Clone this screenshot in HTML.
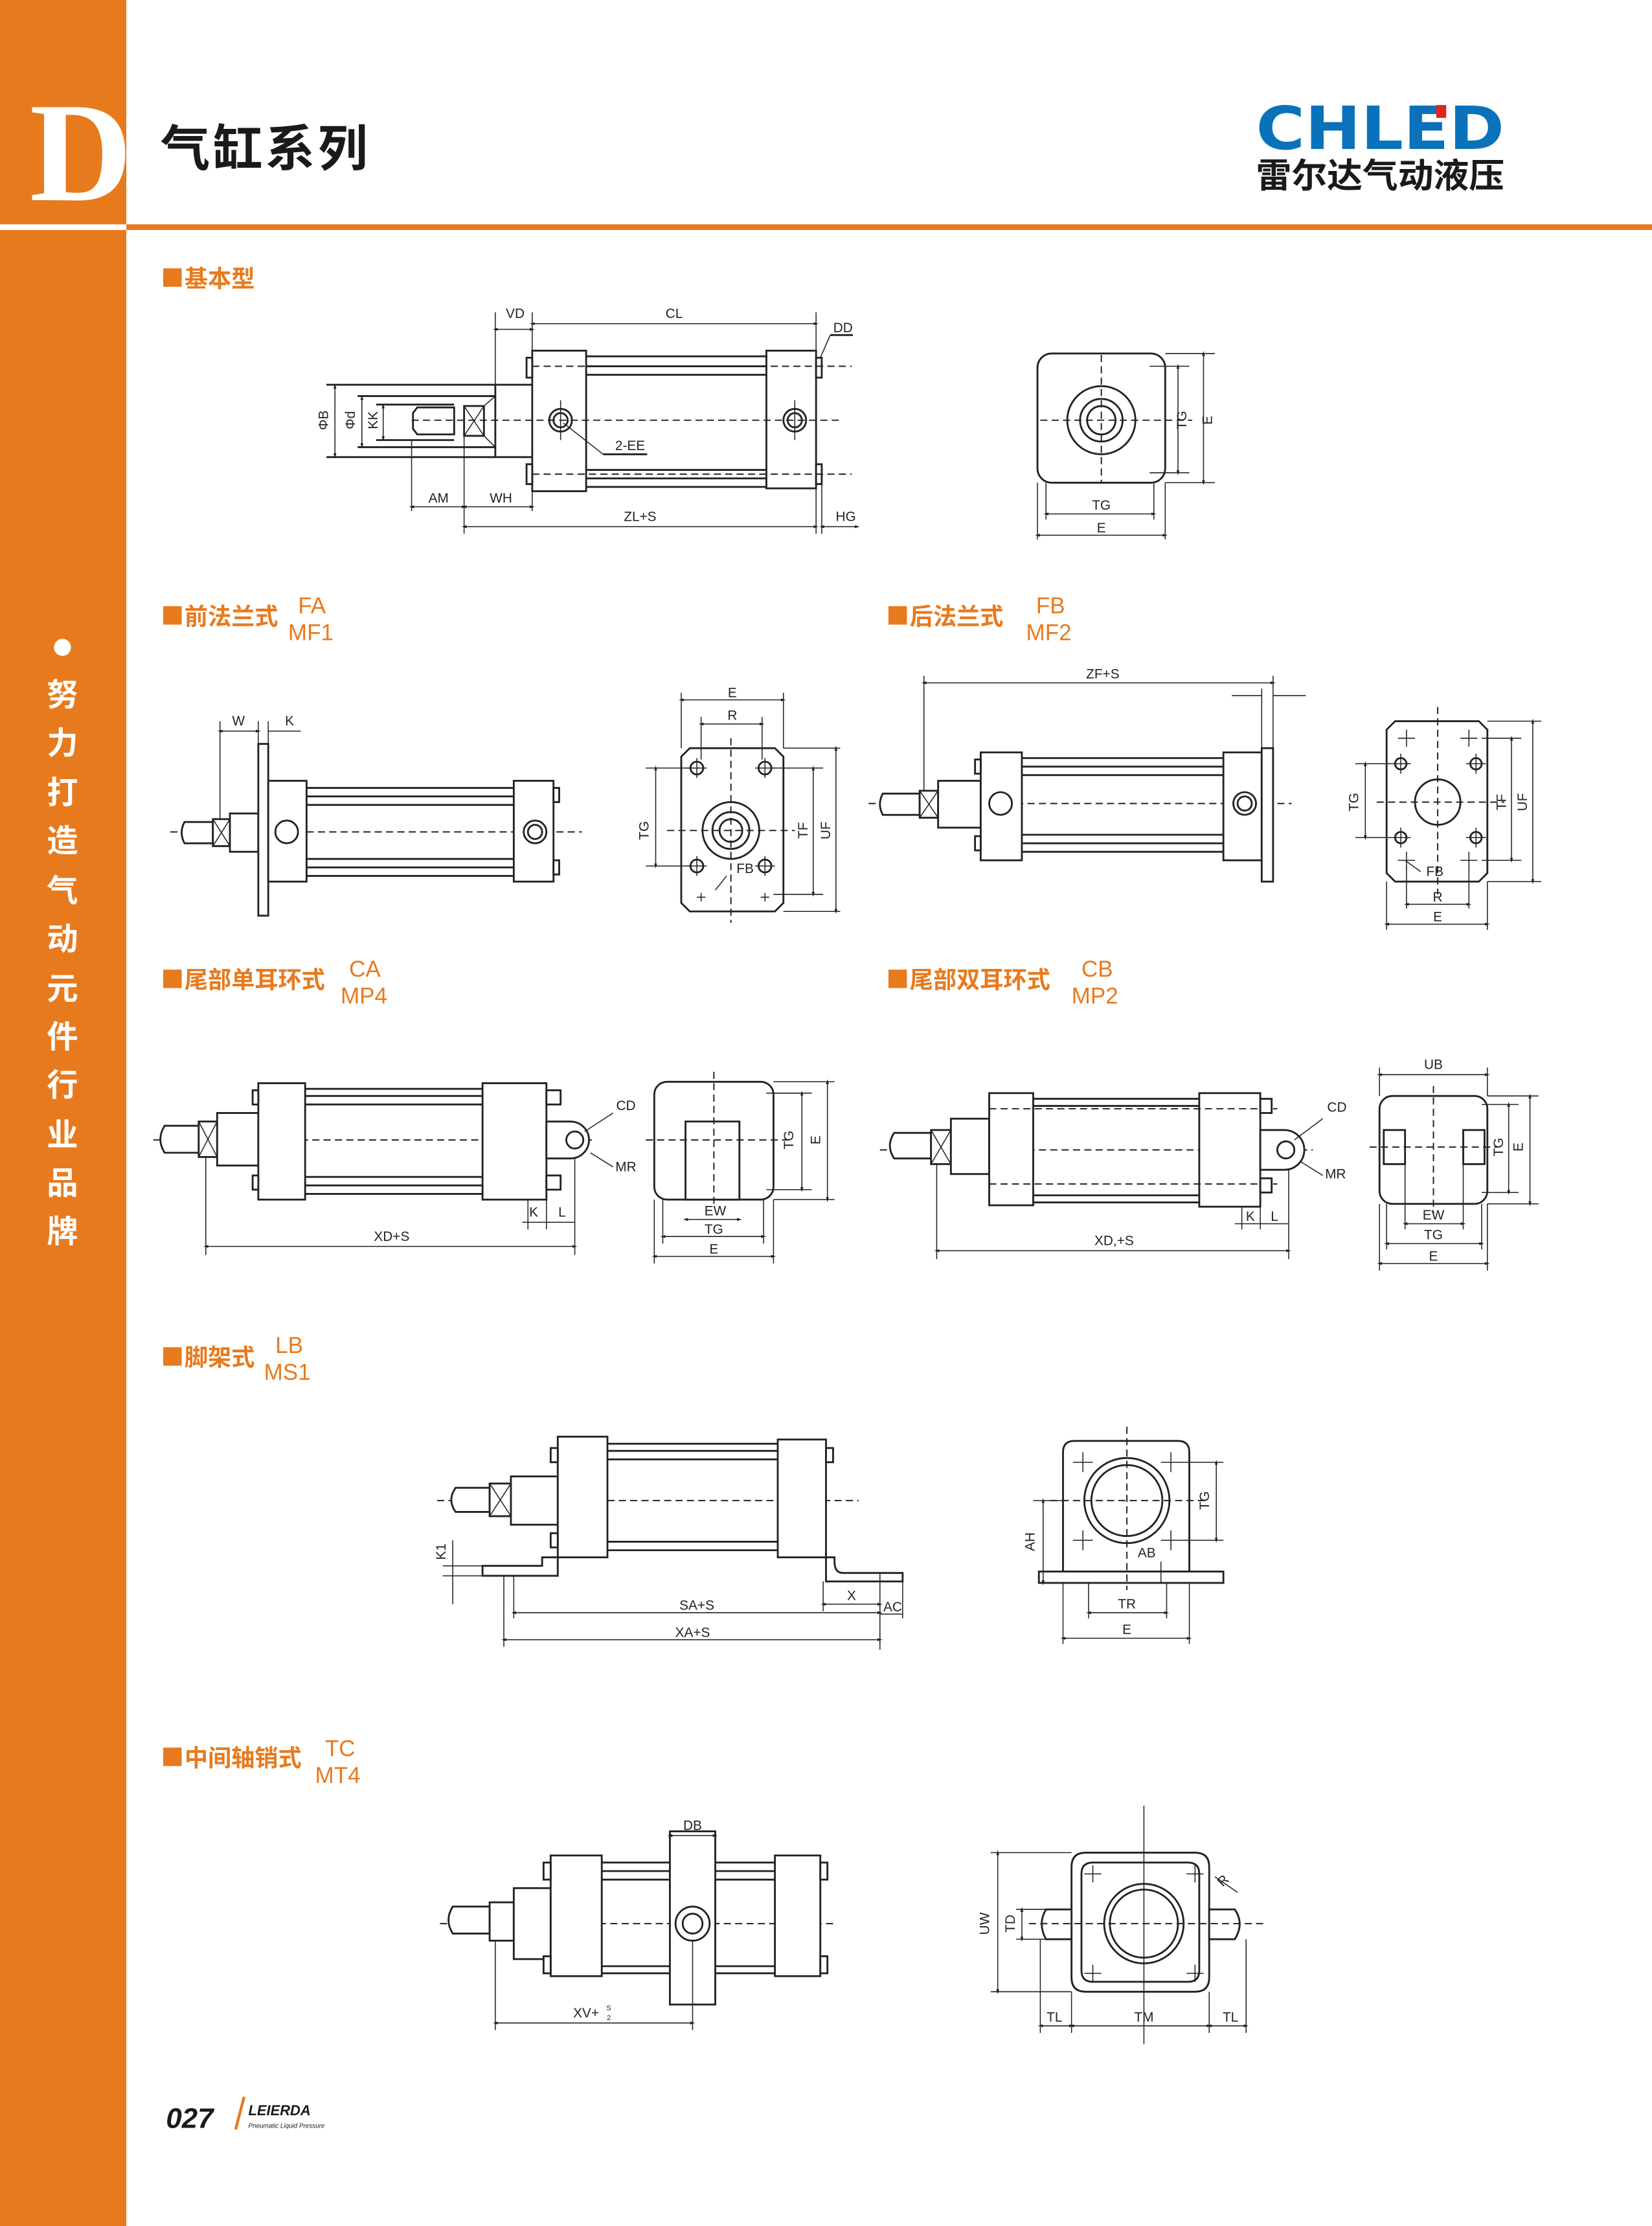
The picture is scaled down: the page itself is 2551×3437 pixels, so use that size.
<!DOCTYPE html>
<html><head><meta charset="utf-8"><style>
html,body{margin:0;padding:0;background:#fff}
svg{display:block}
text{font-family:"Liberation Sans","Noto Sans CJK SC",sans-serif}
.d{stroke:#222;stroke-width:.7;fill:none}
.dm{stroke:#222;stroke-width:.7;fill:none;marker-start:url(#a);marker-end:url(#a)}
.o{stroke:#222;stroke-width:1.3;fill:#fff}
.ol{stroke:#222;stroke-width:1.3;fill:none}
.c{stroke:#222;stroke-width:.9;fill:none;stroke-dasharray:5 3}
.t{font-size:9.5px;fill:#222;text-anchor:middle}
.h{font-size:16.5px;fill:#E87A1E;font-weight:bold}
.hs{font-size:16px;fill:#E87A1E}
</style></head><body>
<svg width="2551" height="3437" viewBox="0 0 1164 1568" preserveAspectRatio="none" xmlns="http://www.w3.org/2000/svg">
<defs>
<marker id="a" viewBox="0 0 10 10" refX="5" refY="5" markerWidth="5" markerHeight="5" orient="auto-start-reverse"><path d="M0,2 L10,5 L0,8 z" fill="#222"/></marker>
</defs>
<!-- sidebar & header -->
<rect x="0" y="0" width="89" height="1568" fill="#E87A1E"/>
<rect x="0" y="158" width="1164" height="4" fill="#E87A1E"/>
<rect x="0" y="158" width="89" height="4" fill="#fff"/>
<text x="57" y="141" font-family="Liberation Serif,serif" font-size="100" font-weight="bold" fill="#fff" text-anchor="middle" style="font-family:'Liberation Serif',serif">D</text>
<text x="113" y="117" font-size="35" font-weight="bold" fill="#1a1a1a" style="letter-spacing:2px">气缸系列</text>
<text x="885" y="105" font-size="42" font-weight="900" fill="#0A72BA" textLength="175" lengthAdjust="spacingAndGlyphs" style="font-family:'DejaVu Sans','Liberation Sans',sans-serif">CHLED</text>
<rect x="1012" y="74" width="7" height="9" fill="#E0251B"/>
<text x="885" y="132" font-size="24" font-weight="bold" fill="#1a1a1a" textLength="175" lengthAdjust="spacingAndGlyphs">雷尔达气动液压</text>
<circle cx="44" cy="456" r="6" fill="#fff"/>
<g font-size="22" fill="#fff" text-anchor="middle" font-weight="bold">
<text x="44" y="497">努</text><text x="44" y="531">力</text><text x="44" y="566">打</text><text x="44" y="600">造</text><text x="44" y="635">气</text><text x="44" y="669">动</text><text x="44" y="704">元</text><text x="44" y="738">件</text><text x="44" y="772">行</text><text x="44" y="807">业</text><text x="44" y="841">品</text><text x="44" y="875">牌</text>
</g>

<!-- section headers -->
<g>
<rect x="115" y="189" width="13" height="13" fill="#E87A1E"/><text class="h" x="130" y="202">基本型</text>
<rect x="115" y="427" width="13" height="13" fill="#E87A1E"/><text class="h" x="130" y="440">前法兰式</text><text class="hs" x="210" y="432">FA</text><text class="hs" x="203" y="451">MF1</text>
<rect x="626" y="427" width="13" height="13" fill="#E87A1E"/><text class="h" x="641" y="440">后法兰式</text><text class="hs" x="730" y="432">FB</text><text class="hs" x="723" y="451">MF2</text>
<rect x="115" y="683" width="13" height="13" fill="#E87A1E"/><text class="h" x="130" y="696">尾部单耳环式</text><text class="hs" x="246" y="688">CA</text><text class="hs" x="240" y="707">MP4</text>
<rect x="626" y="683" width="13" height="13" fill="#E87A1E"/><text class="h" x="641" y="696">尾部双耳环式</text><text class="hs" x="762" y="688">CB</text><text class="hs" x="755" y="707">MP2</text>
<rect x="115" y="949" width="13" height="13" fill="#E87A1E"/><text class="h" x="130" y="962">脚架式</text><text class="hs" x="194" y="953">LB</text><text class="hs" x="186" y="972">MS1</text>
<rect x="115" y="1231" width="13" height="13" fill="#E87A1E"/><text class="h" x="130" y="1244">中间轴销式</text><text class="hs" x="229" y="1237">TC</text><text class="hs" x="222" y="1256">MT4</text>
</g>

<!-- ===== 基本型 side ===== -->
<g>
<line class="ol" x1="230" y1="271" x2="375" y2="271"/><line class="ol" x1="230" y1="322" x2="375" y2="322"/>
<line class="ol" x1="349" y1="271" x2="349" y2="322"/>
<line class="ol" x1="252" y1="279" x2="349" y2="279"/><line class="ol" x1="252" y1="315" x2="349" y2="315"/>
<line class="ol" x1="265" y1="285" x2="320" y2="285"/><line class="ol" x1="265" y1="310" x2="320" y2="310"/>
<path class="ol" d="M294,287 L320,287 L320,306 L294,306 L291,302 L291,291 z"/>
<rect class="ol" x="327" y="286" width="14" height="21"/><path class="d" d="M327,286 L341,307 M341,286 L327,307"/>
<path class="d" d="M341,286 L349,279 M341,307 L349,315"/>
<rect class="o" x="375" y="247" width="38" height="99"/>
<rect class="o" x="540" y="247" width="35" height="97"/>
<g class="ol"><line x1="413" y1="251" x2="540" y2="251"/><line x1="413" y1="258" x2="540" y2="258"/><line x1="413" y1="264" x2="540" y2="264"/><line x1="413" y1="331" x2="540" y2="331"/><line x1="413" y1="337" x2="540" y2="337"/><line x1="413" y1="343" x2="540" y2="343"/></g>
<rect class="o" x="371" y="252" width="4" height="14"/><rect class="o" x="371" y="327" width="4" height="14"/>
<rect class="o" x="575" y="252" width="4" height="14"/><rect class="o" x="575" y="327" width="4" height="14"/>
<line class="c" x1="375" y1="258" x2="600" y2="258"/><line class="c" x1="375" y1="334" x2="600" y2="334"/>
<line class="c" x1="290" y1="296" x2="593" y2="296"/>
<circle class="ol" cx="395" cy="296" r="8"/><circle class="ol" cx="395" cy="296" r="5"/><line class="d" x1="395" y1="282" x2="395" y2="310"/>
<circle class="ol" cx="560" cy="296" r="8"/><circle class="ol" cx="560" cy="296" r="5"/><line class="d" x1="560" y1="282" x2="560" y2="310"/>
<line class="d" x1="397" y1="298" x2="425" y2="320"/><line class="ol" x1="425" y1="320" x2="456" y2="320"/><text class="t" x="444" y="317">2-EE</text>
<line class="d" x1="349" y1="220" x2="349" y2="271"/><line class="d" x1="375" y1="220" x2="375" y2="247"/><line class="d" x1="575" y1="220" x2="575" y2="247"/>
<line class="dm" x1="349" y1="232" x2="375" y2="232"/><text class="t" x="363" y="224">VD</text>
<line class="dm" x1="375" y1="228" x2="575" y2="228"/><text class="t" x="475" y="224">CL</text>
<text class="t" x="594" y="234">DD</text><line class="ol" x1="585" y1="236" x2="601" y2="236"/><line class="d" x1="585" y1="236" x2="578" y2="252"/>
<line class="d" x1="290" y1="310" x2="290" y2="360"/><line class="d" x1="327" y1="307" x2="327" y2="376"/><line class="d" x1="375" y1="346" x2="375" y2="360"/>
<line class="d" x1="575" y1="344" x2="575" y2="376"/><line class="d" x1="579" y1="341" x2="579" y2="376"/>
<line class="dm" x1="290" y1="357" x2="327" y2="357"/><text class="t" x="309" y="354">AM</text>
<line class="dm" x1="327" y1="357" x2="375" y2="357"/><text class="t" x="353" y="354">WH</text>
<line class="dm" x1="327" y1="371" x2="575" y2="371"/><text class="t" x="451" y="367">ZL+S</text>
<line class="dm" x1="579" y1="371" x2="604" y2="371"/><text class="t" x="596" y="367">HG</text>
<line class="dm" x1="236" y1="272" x2="236" y2="321"/><text class="t" transform="translate(231,296) rotate(-90)">ΦB</text>
<line class="dm" x1="255" y1="280" x2="255" y2="314"/><text class="t" transform="translate(250,296) rotate(-90)">Φd</text>
<line class="dm" x1="270" y1="286" x2="270" y2="309"/><text class="t" transform="translate(266,296) rotate(-90)">KK</text>
</g>
<!-- 基本型 end -->
<g>
<rect class="o" x="731" y="249" width="90" height="91" rx="10"/>
<circle class="ol" cx="776" cy="296" r="24"/><circle class="ol" cx="776" cy="296" r="15"/><circle class="ol" cx="776" cy="296" r="10"/>
<line class="c" x1="733" y1="296" x2="840" y2="296"/><line class="c" x1="776" y1="250" x2="776" y2="340"/>
<line class="d" x1="810" y1="258" x2="838" y2="258"/><line class="d" x1="810" y1="333" x2="838" y2="333"/><line class="d" x1="821" y1="249" x2="856" y2="249"/><line class="d" x1="821" y1="340" x2="856" y2="340"/>
<line class="dm" x1="830" y1="258" x2="830" y2="333"/><text class="t" transform="translate(836,296) rotate(-90)">TG</text>
<line class="dm" x1="848" y1="249" x2="848" y2="340"/><text class="t" transform="translate(854,296) rotate(-90)">E</text>
<line class="d" x1="737" y1="340" x2="737" y2="366"/><line class="d" x1="813" y1="340" x2="813" y2="366"/><line class="d" x1="731" y1="340" x2="731" y2="380"/><line class="d" x1="821" y1="340" x2="821" y2="380"/>
<line class="dm" x1="737" y1="362" x2="813" y2="362"/><text class="t" x="776" y="359">TG</text>
<line class="dm" x1="731" y1="377" x2="821" y2="377"/><text class="t" x="776" y="375">E</text>
</g>

<!-- ===== FA side ===== -->
<g>
<line class="c" x1="120" y1="586" x2="410" y2="586"/>
<path class="o" d="M130,579 L150,579 L150,594 L130,594 Q126,586.5 130,579 z"/>
<rect class="o" x="150" y="577" width="12" height="19"/><path class="d" d="M150,577 L162,596 M162,577 L150,596"/>
<rect class="o" x="162" y="573" width="20" height="27"/>
<rect class="o" x="182" y="524" width="7" height="121"/>
<rect class="o" x="189" y="550" width="27" height="71"/>
<rect class="o" x="362" y="550" width="28" height="71"/>
<g class="ol"><line x1="216" y1="555" x2="362" y2="555"/><line x1="216" y1="561" x2="362" y2="561"/><line x1="216" y1="567" x2="362" y2="567"/><line x1="216" y1="605" x2="362" y2="605"/><line x1="216" y1="611" x2="362" y2="611"/><line x1="216" y1="617" x2="362" y2="617"/></g>
<rect class="o" x="390" y="555" width="4" height="10"/><rect class="o" x="390" y="606" width="4" height="10"/>
<circle class="ol" cx="202" cy="586" r="8"/><circle class="ol" cx="377" cy="586" r="8"/><circle class="ol" cx="377" cy="586" r="5"/>
<line class="d" x1="155" y1="508" x2="155" y2="577"/><line class="d" x1="182" y1="508" x2="182" y2="524"/><line class="d" x1="189" y1="508" x2="189" y2="524"/>
<line class="dm" x1="155" y1="515" x2="182" y2="515"/><text class="t" x="168" y="511">W</text>
<line class="d" x1="189" y1="515" x2="212" y2="515"/><text class="t" x="204" y="511">K</text>
</g>
<!-- FA end -->
<g>
<path class="o" d="M486,527 L546,527 L552,533 L552,636 L546,642 L486,642 L480,636 L480,533 z"/>
<circle class="ol" cx="515" cy="585" r="20"/><circle class="ol" cx="515" cy="585" r="13"/><circle class="ol" cx="515" cy="585" r="8"/>
<line class="c" x1="470" y1="585" x2="560" y2="585"/><line class="c" x1="515" y1="520" x2="515" y2="650"/>
<g class="ol"><circle cx="491" cy="541" r="4.5"/><circle cx="539" cy="541" r="4.5"/><circle cx="491" cy="610" r="4.5"/><circle cx="539" cy="610" r="4.5"/></g>
<g class="d"><path d="M484,541h14M491,534v14M532,541h14M539,534v14M484,610h14M491,603v14M532,610h14M539,603v14"/>
<path d="M491,632h6M494,629v6M536,632h6M539,629v6"/></g>
<line class="d" x1="480" y1="488" x2="480" y2="527"/><line class="d" x1="552" y1="488" x2="552" y2="527"/>
<line class="dm" x1="480" y1="493" x2="552" y2="493"/><text class="t" x="516" y="491">E</text>
<line class="d" x1="494" y1="505" x2="494" y2="535"/><line class="d" x1="537" y1="505" x2="537" y2="535"/>
<line class="dm" x1="494" y1="510" x2="537" y2="510"/><text class="t" x="516" y="507">R</text>
<line class="d" x1="455" y1="541" x2="486" y2="541"/><line class="d" x1="455" y1="610" x2="486" y2="610"/>
<line class="dm" x1="462" y1="541" x2="462" y2="610"/><text class="t" transform="translate(457,585) rotate(-90)">TG</text>
<line class="d" x1="545" y1="541" x2="580" y2="541"/><line class="d" x1="545" y1="630" x2="580" y2="630"/>
<line class="dm" x1="573" y1="541" x2="573" y2="630"/><text class="t" transform="translate(569,585) rotate(-90)">TF</text>
<line class="d" x1="552" y1="527" x2="592" y2="527"/><line class="d" x1="552" y1="642" x2="592" y2="642"/>
<line class="dm" x1="589" y1="527" x2="589" y2="642"/><text class="t" transform="translate(585,585) rotate(-90)">UF</text>
<text class="t" x="525" y="615">FB</text><line class="d" x1="512" y1="617" x2="504" y2="627"/>
</g>

<!-- ===== FB side ===== -->
<g>
<line class="c" x1="612" y1="566" x2="910" y2="566"/>
<path class="o" d="M622,559 L648,559 L648,574 L622,574 Q618,566.5 622,559 z"/>
<rect class="o" x="648" y="557" width="13" height="19"/><path class="d" d="M648,557 L661,576 M661,557 L648,576"/>
<rect class="o" x="661" y="550" width="30" height="33"/>
<rect class="o" x="691" y="530" width="29" height="76"/>
<rect class="o" x="862" y="530" width="27" height="76"/>
<rect class="o" x="889" y="527" width="8" height="94"/>
<g class="ol"><line x1="720" y1="534" x2="862" y2="534"/><line x1="720" y1="540" x2="862" y2="540"/><line x1="720" y1="546" x2="862" y2="546"/><line x1="720" y1="588" x2="862" y2="588"/><line x1="720" y1="594" x2="862" y2="594"/><line x1="720" y1="600" x2="862" y2="600"/></g>
<rect class="o" x="687" y="535" width="4" height="10"/><rect class="o" x="687" y="589" width="4" height="10"/>
<circle class="ol" cx="705" cy="566" r="8"/><circle class="ol" cx="877" cy="566" r="8"/><circle class="ol" cx="877" cy="566" r="5"/>
<line class="d" x1="651" y1="476" x2="651" y2="557"/><line class="d" x1="897" y1="476" x2="897" y2="527"/><line class="d" x1="889" y1="485" x2="889" y2="527"/>
<line class="dm" x1="651" y1="481" x2="897" y2="481"/><text class="t" x="777" y="478">ZF+S</text>
<line class="d" x1="868" y1="490" x2="889" y2="490"/><line class="d" x1="897" y1="490" x2="920" y2="490"/>
</g>
<!-- FB end -->
<g>
<path class="o" d="M983,508 L1042,508 L1048,514 L1048,615 L1042,621 L983,621 L977,615 L977,514 z"/>
<circle class="ol" cx="1013" cy="565" r="16"/>
<line class="c" x1="970" y1="565" x2="1060" y2="565"/><line class="c" x1="1013" y1="498" x2="1013" y2="630"/>
<g class="ol"><circle cx="987" cy="538" r="4"/><circle cx="1040" cy="538" r="4"/><circle cx="987" cy="590" r="4"/><circle cx="1040" cy="590" r="4"/></g>
<g class="d"><path d="M980,538h14M987,531v14M1033,538h14M1040,531v14M980,590h14M987,583v14M1033,590h14M1040,583v14M985,520h12M991,514v12M1029,520h12M1035,514v12M985,606h12M991,600v12M1029,606h12M1035,600v12"/></g>
<line class="d" x1="955" y1="538" x2="983" y2="538"/><line class="d" x1="955" y1="590" x2="983" y2="590"/>
<line class="dm" x1="962" y1="538" x2="962" y2="590"/><text class="t" transform="translate(957,565) rotate(-90)">TG</text>
<line class="d" x1="1044" y1="520" x2="1072" y2="520"/><line class="d" x1="1044" y1="606" x2="1072" y2="606"/>
<line class="dm" x1="1065" y1="520" x2="1065" y2="606"/><text class="t" transform="translate(1061,565) rotate(-90)">TF</text>
<line class="d" x1="1048" y1="508" x2="1086" y2="508"/><line class="d" x1="1048" y1="621" x2="1086" y2="621"/>
<line class="dm" x1="1080" y1="508" x2="1080" y2="621"/><text class="t" transform="translate(1076,565) rotate(-90)">UF</text>
<text class="t" x="1011" y="617">FB</text><line class="d" x1="1001" y1="614" x2="990" y2="606"/>
<line class="d" x1="991" y1="610" x2="991" y2="640"/><line class="d" x1="1035" y1="610" x2="1035" y2="640"/>
<line class="dm" x1="991" y1="637" x2="1035" y2="637"/><text class="t" x="1013" y="635">R</text>
<line class="d" x1="977" y1="621" x2="977" y2="655"/><line class="d" x1="1048" y1="621" x2="1048" y2="655"/>
<line class="dm" x1="977" y1="651" x2="1048" y2="651"/><text class="t" x="1013" y="649">E</text>
</g>

<!-- ===== CA side ===== -->
<g>
<line class="c" x1="108" y1="803" x2="420" y2="803"/>
<path class="o" d="M116,793 L140,793 L140,812 L116,812 Q110,802.5 116,793 z"/>
<rect class="o" x="140" y="790" width="13" height="25"/><path class="d" d="M140,790 L153,815 M153,790 L140,815"/>
<rect class="o" x="153" y="784" width="29" height="37"/>
<rect class="o" x="182" y="763" width="33" height="82"/>
<rect class="o" x="340" y="763" width="45" height="82"/>
<g class="ol"><line x1="215" y1="767" x2="340" y2="767"/><line x1="215" y1="772" x2="340" y2="772"/><line x1="215" y1="778" x2="340" y2="778"/><line x1="215" y1="829" x2="340" y2="829"/><line x1="215" y1="835" x2="340" y2="835"/><line x1="215" y1="841" x2="340" y2="841"/></g>
<rect class="o" x="178" y="768" width="4" height="10"/><rect class="o" x="178" y="828" width="4" height="10"/>
<rect class="o" x="385" y="768" width="10" height="10"/><rect class="o" x="385" y="828" width="10" height="10"/>
<path class="o" d="M385,790 L402,790 A13,13 0 0 1 402,816 L385,816 z"/>
<circle class="ol" cx="405" cy="803" r="6"/>
<line class="d" x1="412" y1="797" x2="432" y2="784"/><text class="t" x="441" y="782">CD</text>
<line class="d" x1="416" y1="812" x2="432" y2="822"/><text class="t" x="441" y="825">MR</text>
<line class="d" x1="145" y1="815" x2="145" y2="884"/><line class="d" x1="405" y1="816" x2="405" y2="884"/><line class="d" x1="372" y1="845" x2="372" y2="866"/><line class="d" x1="385" y1="845" x2="385" y2="866"/>
<line class="dm" x1="145" y1="878" x2="405" y2="878"/><text class="t" x="276" y="874">XD+S</text>
<line class="d" x1="368" y1="861" x2="405" y2="861"/><text class="t" x="376" y="857">K</text><text class="t" x="396" y="857">L</text>
</g>
<!-- CA end -->
<g>
<rect class="o" x="461" y="762" width="84" height="83" rx="9"/>
<rect class="o" x="483" y="790" width="38" height="55"/>
<line class="c" x1="455" y1="803" x2="555" y2="803"/><line class="c" x1="503" y1="755" x2="503" y2="850"/>
<line class="d" x1="540" y1="770" x2="572" y2="770"/><line class="d" x1="540" y1="838" x2="572" y2="838"/><line class="d" x1="545" y1="762" x2="588" y2="762"/><line class="d" x1="545" y1="845" x2="588" y2="845"/>
<line class="dm" x1="565" y1="770" x2="565" y2="838"/><text class="t" transform="translate(559,803) rotate(-90)">TG</text>
<line class="dm" x1="583" y1="762" x2="583" y2="845"/><text class="t" transform="translate(578,803) rotate(-90)">E</text>
<line class="d" x1="467" y1="845" x2="467" y2="876"/><line class="d" x1="538" y1="845" x2="538" y2="876"/><line class="d" x1="461" y1="845" x2="461" y2="890"/><line class="d" x1="545" y1="845" x2="545" y2="890"/>
<line class="dm" x1="483" y1="859" x2="521" y2="859"/><text class="t" x="504" y="856">EW</text>
<line class="dm" x1="467" y1="871" x2="538" y2="871"/><text class="t" x="503" y="869">TG</text>
<line class="dm" x1="461" y1="885" x2="545" y2="885"/><text class="t" x="503" y="883">E</text>
</g>

<!-- ===== CB side ===== -->
<g>
<line class="c" x1="620" y1="810" x2="925" y2="810"/>
<path class="o" d="M630,798 L656,798 L656,816 L630,816 Q624,807 630,798 z"/>
<rect class="o" x="656" y="796" width="14" height="24"/><path class="d" d="M656,796 L670,820 M670,796 L656,820"/>
<rect class="o" x="670" y="788" width="27" height="39"/>
<rect class="o" x="697" y="770" width="31" height="79"/>
<rect class="o" x="845" y="770" width="43" height="80"/>
<g class="ol"><line x1="728" y1="774" x2="845" y2="774"/><line x1="728" y1="779" x2="845" y2="779"/><line x1="728" y1="842" x2="845" y2="842"/><line x1="728" y1="847" x2="845" y2="847"/></g>
<line class="c" x1="697" y1="781" x2="900" y2="781"/><line class="c" x1="697" y1="834" x2="900" y2="834"/>
<rect class="o" x="888" y="774" width="8" height="10"/><rect class="o" x="888" y="830" width="8" height="10"/>
<path class="o" d="M888,796 L905,796 A14,14 0 0 1 905,824 L888,824 z"/>
<circle class="ol" cx="906" cy="810" r="6"/>
<line class="d" x1="912" y1="803" x2="932" y2="788"/><text class="t" x="942" y="783">CD</text>
<line class="d" x1="916" y1="818" x2="932" y2="828"/><text class="t" x="941" y="830">MR</text>
<line class="d" x1="660" y1="820" x2="660" y2="887"/><line class="d" x1="908" y1="824" x2="908" y2="887"/><line class="d" x1="875" y1="850" x2="875" y2="866"/><line class="d" x1="888" y1="850" x2="888" y2="866"/>
<line class="dm" x1="660" y1="881" x2="908" y2="881"/><text class="t" x="785" y="877">XD,+S</text>
<line class="d" x1="870" y1="862" x2="908" y2="862"/><text class="t" x="881" y="860">K</text><text class="t" x="898" y="860">L</text>
</g>
<!-- CB end -->
<g>
<rect class="o" x="972" y="772" width="76" height="76" rx="9"/>
<rect class="o" x="975" y="796" width="15" height="24"/><rect class="o" x="1031" y="796" width="15" height="24"/>
<line class="c" x1="965" y1="808" x2="1055" y2="808"/><line class="c" x1="1010" y1="765" x2="1010" y2="855"/>
<line class="d" x1="972" y1="752" x2="972" y2="772"/><line class="d" x1="1048" y1="752" x2="1048" y2="772"/>
<line class="dm" x1="972" y1="757" x2="1048" y2="757"/><text class="t" x="1010" y="753">UB</text>
<line class="d" x1="1044" y1="778" x2="1070" y2="778"/><line class="d" x1="1044" y1="840" x2="1070" y2="840"/><line class="d" x1="1048" y1="772" x2="1084" y2="772"/><line class="d" x1="1048" y1="848" x2="1084" y2="848"/>
<line class="dm" x1="1063" y1="778" x2="1063" y2="840"/><text class="t" transform="translate(1059,808) rotate(-90)">TG</text>
<line class="dm" x1="1078" y1="772" x2="1078" y2="848"/><text class="t" transform="translate(1073,808) rotate(-90)">E</text>
<line class="d" x1="990" y1="820" x2="990" y2="866"/><line class="d" x1="1031" y1="820" x2="1031" y2="866"/>
<line class="d" x1="977" y1="848" x2="977" y2="880"/><line class="d" x1="1044" y1="848" x2="1044" y2="880"/><line class="d" x1="972" y1="848" x2="972" y2="895"/><line class="d" x1="1048" y1="848" x2="1048" y2="895"/>
<line class="dm" x1="990" y1="862" x2="1031" y2="862"/><text class="t" x="1010" y="859">EW</text>
<line class="dm" x1="977" y1="876" x2="1044" y2="876"/><text class="t" x="1010" y="873">TG</text>
<line class="dm" x1="972" y1="890" x2="1048" y2="890"/><text class="t" x="1010" y="888">E</text>
</g>

<!-- ===== LB side ===== -->
<g>
<line class="c" x1="308" y1="1057" x2="605" y2="1057"/>
<path class="o" d="M321,1048 L345,1048 L345,1065 L321,1065 Q315,1056.5 321,1048 z"/>
<rect class="o" x="345" y="1045" width="15" height="23"/><path class="d" d="M345,1045 L360,1068 M360,1045 L345,1068"/>
<rect class="o" x="360" y="1040" width="33" height="34"/>
<path class="o" d="M393,1097 L393,1110 L340,1110 L340,1103 L382,1103 L382,1097 z"/>
<rect class="o" x="393" y="1012" width="35" height="85"/>
<rect class="o" x="548" y="1014" width="34" height="83"/>
<g class="ol"><line x1="428" y1="1017" x2="548" y2="1017"/><line x1="428" y1="1022" x2="548" y2="1022"/><line x1="428" y1="1028" x2="548" y2="1028"/><line x1="428" y1="1086" x2="548" y2="1086"/><line x1="428" y1="1092" x2="548" y2="1092"/></g>
<rect class="o" x="388" y="1020" width="5" height="10"/><rect class="o" x="388" y="1080" width="5" height="10"/>
<rect class="o" x="582" y="1020" width="5" height="10"/>
<path class="o" d="M582,1097 L582,1114 L636,1114 L636,1108 L594,1108 Q588,1108 588,1100 L588,1097 z"/>
<line class="c" x1="600" y1="1108" x2="636" y2="1108"/>
<line class="d" x1="355" y1="1110" x2="355" y2="1160"/><line class="d" x1="362" y1="1110" x2="362" y2="1140"/><line class="d" x1="620" y1="1108" x2="620" y2="1162"/><line class="d" x1="580" y1="1114" x2="580" y2="1135"/><line class="d" x1="636" y1="1114" x2="636" y2="1140"/>
<line class="dm" x1="362" y1="1136" x2="620" y2="1136"/><text class="t" x="491" y="1134">SA+S</text>
<line class="dm" x1="355" y1="1155" x2="620" y2="1155"/><text class="t" x="488" y="1153">XA+S</text>
<line class="dm" x1="580" y1="1130" x2="620" y2="1130"/><text class="t" x="600" y="1127">X</text>
<line class="d" x1="620" y1="1137" x2="636" y2="1137"/><text class="t" x="629" y="1135">AC</text>
<line class="d" x1="312" y1="1103" x2="340" y2="1103"/><line class="d" x1="312" y1="1110" x2="340" y2="1110"/>
<line class="d" x1="319" y1="1085" x2="319" y2="1130"/><text class="t" transform="translate(314,1093) rotate(-90)">K1</text>
</g>
<!-- LB end -->
<g>
<path class="o" d="M757,1015 L830,1015 Q838,1015 838,1023 L838,1107 L749,1107 L749,1023 Q749,1015 757,1015 z"/>
<rect class="o" x="732" y="1107" width="130" height="8"/>
<circle class="ol" cx="794" cy="1057" r="30"/><circle class="ol" cx="794" cy="1057" r="25"/>
<line class="c" x1="740" y1="1057" x2="850" y2="1057"/><line class="c" x1="794" y1="1005" x2="794" y2="1120"/>
<g class="d"><path d="M756,1030h14M763,1023v14M818,1030h14M825,1023v14M756,1085h14M763,1078v14M818,1085h14M825,1078v14"/></g>
<line class="d" x1="832" y1="1030" x2="862" y2="1030"/><line class="d" x1="832" y1="1085" x2="862" y2="1085"/>
<line class="dm" x1="857" y1="1030" x2="857" y2="1085"/><text class="t" transform="translate(852,1057) rotate(-90)">TG</text>
<line class="d" x1="728" y1="1057" x2="749" y2="1057"/>
<line class="dm" x1="735" y1="1057" x2="735" y2="1115"/><text class="t" transform="translate(729,1086) rotate(-90)">AH</text>
<text class="t" x="808" y="1097">AB</text><line class="d" x1="818" y1="1100" x2="818" y2="1115"/>
<line class="d" x1="767" y1="1115" x2="767" y2="1140"/><line class="d" x1="822" y1="1115" x2="822" y2="1140"/>
<line class="dm" x1="767" y1="1136" x2="822" y2="1136"/><text class="t" x="794" y="1133">TR</text>
<line class="d" x1="749" y1="1115" x2="749" y2="1158"/><line class="d" x1="838" y1="1115" x2="838" y2="1158"/>
<line class="dm" x1="749" y1="1154" x2="838" y2="1154"/><text class="t" x="794" y="1151">E</text>
</g>

<!-- ===== TC side ===== -->
<g>
<line class="c" x1="310" y1="1355" x2="590" y2="1355"/>
<path class="o" d="M319,1343 L345,1343 L345,1362 L319,1362 Q313,1352.5 319,1343 z"/>
<rect class="o" x="345" y="1340" width="17" height="27"/>
<rect class="o" x="362" y="1330" width="26" height="50"/>
<rect class="o" x="388" y="1307" width="36" height="85"/>
<rect class="o" x="546" y="1307" width="32" height="85"/>
<g class="ol"><line x1="424" y1="1312" x2="472" y2="1312"/><line x1="424" y1="1318" x2="472" y2="1318"/><line x1="424" y1="1324" x2="472" y2="1324"/><line x1="504" y1="1312" x2="546" y2="1312"/><line x1="504" y1="1318" x2="546" y2="1318"/><line x1="504" y1="1324" x2="546" y2="1324"/>
<line x1="424" y1="1385" x2="472" y2="1385"/><line x1="424" y1="1390" x2="472" y2="1390"/><line x1="504" y1="1385" x2="546" y2="1385"/><line x1="504" y1="1390" x2="546" y2="1390"/></g>
<rect class="o" x="472" y="1290" width="32" height="122"/>
<circle class="ol" cx="488" cy="1355" r="12"/><circle class="ol" cx="488" cy="1355" r="7"/>
<rect class="o" x="383" y="1312" width="5" height="12"/><rect class="o" x="383" y="1378" width="5" height="12"/>
<rect class="o" x="578" y="1312" width="5" height="12"/><rect class="o" x="578" y="1378" width="5" height="12"/>
<line class="dm" x1="472" y1="1293" x2="504" y2="1293"/><text class="t" x="488" y="1289">DB</text>
<line class="d" x1="349" y1="1367" x2="349" y2="1430"/><line class="d" x1="488" y1="1367" x2="488" y2="1430"/>
<line class="dm" x1="349" y1="1425" x2="488" y2="1425"/><text class="t" x="413" y="1421">XV+</text><text x="429" y="1416" font-size="5" text-anchor="middle" fill="#222">S</text><text x="429" y="1423" font-size="5" text-anchor="middle" fill="#222">2</text>
</g>
<!-- TC end -->
<g>
<path class="o" d="M765,1305 L842,1305 Q852,1305 852,1315 L852,1393 Q852,1403 842,1403 L765,1403 Q755,1403 755,1393 L755,1315 Q755,1305 765,1305 z"/>
<path class="ol" d="M770,1312 L837,1312 Q845,1312 845,1320 L845,1388 Q845,1396 837,1396 L770,1396 Q762,1396 762,1388 L762,1320 Q762,1312 770,1312 z"/>
<circle class="ol" cx="806" cy="1355" r="28"/><circle class="ol" cx="806" cy="1355" r="24"/>
<path class="o" d="M755,1345 L737,1345 Q731,1355 737,1366 L755,1366 z"/>
<path class="o" d="M852,1345 L870,1345 Q877,1355 870,1366 L852,1366 z"/>
<line class="c" x1="725" y1="1355" x2="890" y2="1355"/><line class="d" x1="806" y1="1272" x2="806" y2="1440"/>
<g class="d"><path d="M764,1320h12M770,1314v12M836,1320h12M842,1314v12M764,1390h12M770,1384v12M836,1390h12M842,1384v12"/></g>
<line class="d" x1="698" y1="1305" x2="755" y2="1305"/><line class="d" x1="698" y1="1403" x2="755" y2="1403"/>
<line class="dm" x1="703" y1="1305" x2="703" y2="1403"/><text class="t" transform="translate(697,1355) rotate(-90)">UW</text>
<line class="d" x1="716" y1="1345" x2="737" y2="1345"/><line class="d" x1="716" y1="1366" x2="737" y2="1366"/>
<line class="dm" x1="720" y1="1345" x2="720" y2="1366"/><text class="t" transform="translate(715,1355) rotate(-90)">TD</text>
<text class="t" transform="translate(864,1327) rotate(-45)">R</text><line class="d" x1="856" y1="1322" x2="872" y2="1333"/>
<line class="d" x1="733" y1="1366" x2="733" y2="1432"/><line class="d" x1="755" y1="1403" x2="755" y2="1432"/><line class="d" x1="852" y1="1403" x2="852" y2="1432"/><line class="d" x1="878" y1="1366" x2="878" y2="1432"/>
<line class="dm" x1="733" y1="1427" x2="755" y2="1427"/><text class="t" x="743" y="1424">TL</text>
<line class="dm" x1="755" y1="1427" x2="852" y2="1427"/><text class="t" x="806" y="1424">TM</text>
<line class="dm" x1="852" y1="1427" x2="878" y2="1427"/><text class="t" x="867" y="1424">TL</text>
</g>

<!-- footer -->
<text x="117" y="1499" font-size="20" font-weight="bold" font-style="italic" fill="#1a1a1a">027</text>
<line x1="172" y1="1477" x2="166" y2="1500" stroke="#E87A1E" stroke-width="2"/>
<text x="175" y="1490" font-size="10" font-style="italic" font-weight="bold" fill="#1a1a1a">LEIERDA</text>
<text x="175" y="1499" font-size="4.5" font-style="italic" fill="#1a1a1a">Pneumatic Liquid Pressure</text>
</svg>
</body></html>
